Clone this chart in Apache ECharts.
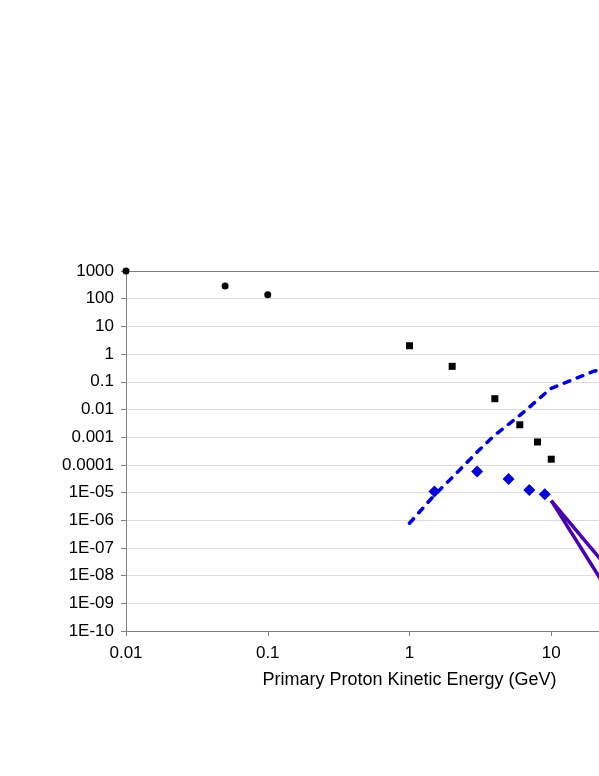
<!DOCTYPE html>
<html>
<head>
<meta charset="utf-8">
<script src="https://cdn.jsdelivr.net/npm/echarts@6/dist/echarts.min.js"></script>
<style>
  html, body { margin: 0; padding: 0; background: #fff; }
  #myChart { width: 599px; height: 776px; }
</style>
</head>
<body>
<div id="myChart"></div>
<script>
// y tick labels, indexed by decade exponent (-10 .. 3)
const yTickLabels = ['1E-10', '1E-09', '1E-08', '1E-07', '1E-06', '1E-05',
  '0.0001', '0.001', '0.01', '0.1', '1', '10', '100', '1000'];
const xTickLabels = ['0.01', '0.1', '1', '10', '100'];

// black circles
const circleX = [0.01, 0.05, 0.1];
const circleY = [1000, 290, 140];

// black squares
const squareX = [1, 2, 4, 6, 8, 10];
const squareY = [2.0, 0.36, 0.0245, 0.0028, 0.00067, 0.00016];

// blue diamonds
const diamondX = [1.5, 3, 5, 7, 9];
const diamondY = [1.1e-5, 5.7e-5, 3.1e-5, 1.24e-5, 8.7e-6];

// blue dashed curve
const dashX = [1, 1.5, 2, 3, 4, 5, 6, 7, 8, 9, 10, 20, 30];
const dashY = [7.8e-7, 8.1e-6, 3.5e-5, 2.9e-4, 1.2e-3, 2.9e-3, 6.1e-3,
  0.012, 0.022, 0.037, 0.058, 0.24, 0.4];

// purple lines
const purpleAX = [10, 30];
const purpleAY = [5.1e-6, 6.3e-9];
const purpleBX = [10, 30];
const purpleBY = [5.1e-6, 6.6e-10];

function pairs(xs, ys) {
  return xs.map((x, i) => [x, ys[i]]);
}

const labelFont = { fontFamily: 'Liberation Sans', fontSize: 17, color: '#000' };

let myChart = echarts.init(document.getElementById('myChart'));
myChart.setOption({
  animation: false,
  grid: {
    left: 126,
    top: 271,
    bottom: 145,
    right: -94,
    outerBoundsMode: 'none'
  },
  xAxis: [{
    type: 'log',
    logBase: 10,
    min: 0.01,
    max: 100,
    interval: 1,
    name: 'Primary Proton Kinetic Energy (GeV)',
    nameLocation: 'middle',
    nameGap: 40,
    nameTextStyle: { fontFamily: 'Liberation Sans', fontSize: 18, color: '#000' },
    axisLine: { show: true, lineStyle: { color: '#808080', width: 1 } },
    axisTick: { show: true, length: 5, lineStyle: { color: '#808080' } },
    axisLabel: Object.assign({
      margin: 14,
      formatter: function (v) {
        return xTickLabels[Math.round(Math.log10(v)) + 2];
      }
    }, labelFont),
    splitLine: { show: false },
    minorTick: { show: false }
  }, {
    type: 'log',
    position: 'top',
    min: 0.01,
    max: 100,
    axisLine: { show: true, lineStyle: { color: '#808080', width: 1 } },
    axisTick: { show: false },
    axisLabel: { show: false },
    splitLine: { show: false }
  }],
  yAxis: {
    type: 'log',
    logBase: 10,
    min: 1e-10,
    max: 1000,
    interval: 1,
    axisLine: { show: true, lineStyle: { color: '#808080', width: 1 } },
    axisTick: { show: true, length: 5, lineStyle: { color: '#808080' } },
    axisLabel: Object.assign({
      margin: 12,
      padding: [2, 0, 0, 0],
      formatter: function (v) {
        return yTickLabels[Math.round(Math.log10(v)) + 10];
      }
    }, labelFont),
    splitLine: { show: true, lineStyle: { color: '#dcdcdc', width: 1 } }
  },
  series: [{
    name: 'dashed',
    type: 'line',
    data: pairs(dashX, dashY),
    showSymbol: false,
    symbol: 'none',
    smooth: false,
    lineStyle: { color: '#0000d8', width: 3.5, type: [6, 8], cap: 'round' },
    z: 2
  }, {
    name: 'purpleA',
    type: 'line',
    data: pairs(purpleAX, purpleAY),
    symbol: 'none',
    lineStyle: { color: '#4a00b0', width: 3.5 },
    z: 2
  }, {
    name: 'purpleB',
    type: 'line',
    data: pairs(purpleBX, purpleBY),
    symbol: 'none',
    lineStyle: { color: '#4a00b0', width: 3.5 },
    z: 2
  }, {
    name: 'circles',
    type: 'scatter',
    data: pairs(circleX, circleY),
    symbol: 'circle',
    symbolSize: 7,
    itemStyle: { color: '#000', opacity: 1 },
    z: 3
  }, {
    name: 'squares',
    type: 'scatter',
    data: pairs(squareX, squareY),
    symbol: 'rect',
    symbolSize: 7,
    itemStyle: { color: '#000', opacity: 1 },
    z: 3
  }, {
    name: 'diamonds',
    type: 'scatter',
    data: pairs(diamondX, diamondY),
    symbol: 'diamond',
    symbolSize: 12,
    itemStyle: { color: '#0000d8', opacity: 1 },
    z: 3
  }]
});
</script>
</body>
</html>
